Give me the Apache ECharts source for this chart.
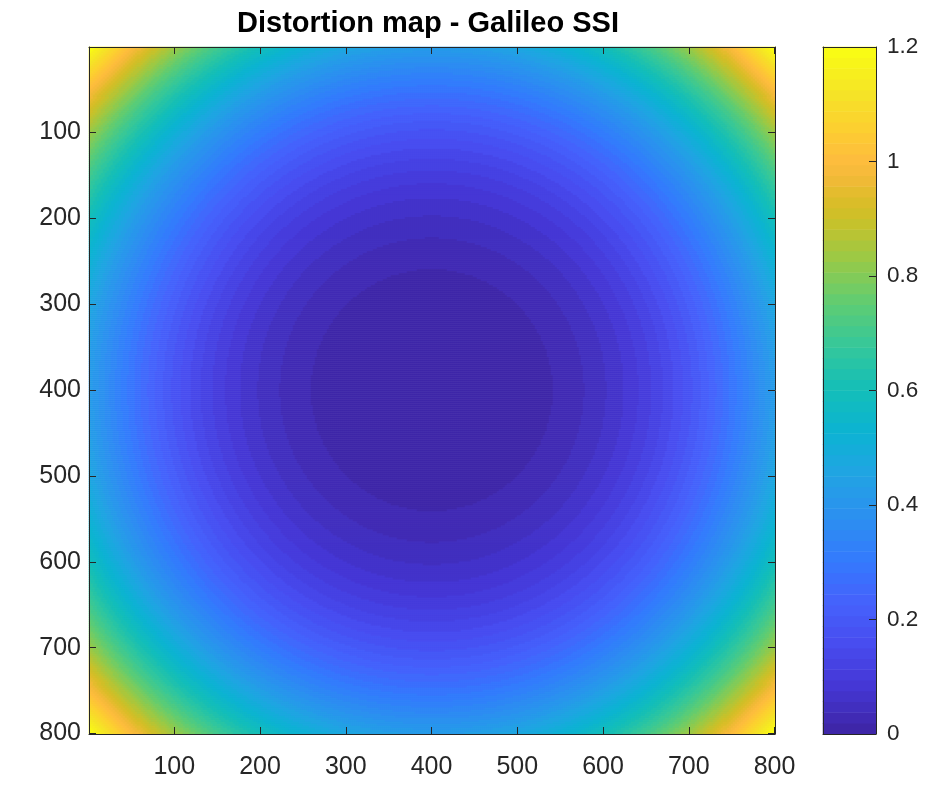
<!DOCTYPE html>
<html><head><meta charset="utf-8">
<script src="https://cdn.jsdelivr.net/npm/echarts@6/dist/echarts.min.js"></script>
<style>html,body{margin:0;padding:0;background:#fff}#c{width:943px;height:793px}</style>
</head><body><div id="c"></div>
<script>
// ---------------- data ----------------
const titleText = 'Distortion map - Galileo SSI';
const xTickValues = [100, 200, 300, 400, 500, 600, 700, 800];
const yTickValues = [100, 200, 300, 400, 500, 600, 700, 800];
const colorLimits = [0, 1.2];
const colorbarInterval = 0.2;
const imageSize = 800;                 // image is 800 x 800 pixels
const opticalCenter = [400.5, 400.5];  // centre of the concentric rings
const nLevels = 64;                    // colour bands in the colour bar
// radius (image pixels from the centre) where the map steps into the next colour band,
// read off the ring edges in the picture (band 0 is the dark central disc)
const bandEdgeRadius = [
  140.9, 177.5, 203.2, 223.7, 240.9, 256.0, 269.5, 281.8, 293.1, 303.6,
  313.4, 322.6, 331.3, 339.6, 347.5, 355.0, 362.3, 369.3, 376.0, 382.5,
  388.7, 394.8, 400.7, 406.4, 412.0, 417.4, 422.7, 427.9, 432.9, 437.8,
  442.6, 447.3, 451.9, 456.5, 460.9, 465.2, 469.5, 473.7, 477.8, 481.9,
  485.8, 489.8, 493.6, 497.4, 501.2, 504.8, 508.5, 512.1, 515.6, 519.1,
  522.5, 525.9, 529.3, 532.6, 535.8, 539.1, 542.3, 545.4, 548.5, 551.6,
  554.7, 557.7, 560.7
];

// ---------------- colormap (parula) ----------------
const parulaAnchors = [
  [0, 0.2422, 0.1504, 0.6603], [16, 0.2704, 0.2138, 0.8346], [32, 0.2813, 0.2985, 0.9397],
  [48, 0.2710, 0.3860, 0.9898], [64, 0.2006, 0.4803, 0.9906], [80, 0.1716, 0.5655, 0.9393],
  [96, 0.1288, 0.6408, 0.8910], [112, 0.0433, 0.7039, 0.8242], [128, 0.0770, 0.7468, 0.7224],
  [144, 0.2061, 0.7808, 0.6065], [160, 0.3671, 0.8021, 0.4563], [176, 0.5886, 0.7913, 0.2833],
  [192, 0.7945, 0.7554, 0.1570], [200, 0.8703, 0.7392, 0.1615], [208, 0.9523, 0.7284, 0.2237],
  [214, 0.9900, 0.7365, 0.2429], [224, 0.9938, 0.7974, 0.1974], [240, 0.9601, 0.8963, 0.1507],
  [255, 0.9769, 0.9839, 0.0805]
];
function parula(n) {
  const out = [];
  for (let k = 0; k < n; k++) {
    const idx = k * 255 / (n - 1);
    let j = 0;
    while (j < parulaAnchors.length - 2 && parulaAnchors[j + 1][0] < idx) j++;
    const a = parulaAnchors[j], b = parulaAnchors[j + 1];
    const t = (idx - a[0]) / (b[0] - a[0]);
    const c = [1, 2, 3].map(i => Math.round(255 * (a[i] + (b[i] - a[i]) * t)));
    out.push('rgb(' + c.join(',') + ')');
  }
  return out;
}
const colors = parula(nLevels);
const step = (colorLimits[1] - colorLimits[0]) / nLevels;

// ---------------- build heatmap cells ----------------
const nCells = 343;
const cellSize = imageSize / nCells;
const cellIdx = [];
for (let i = 0; i < nCells; i++) cellIdx.push(i);
function bandOf(r) {
  let lo = 0, hi = bandEdgeRadius.length;
  while (lo < hi) { const m = (lo + hi) >> 1; if (bandEdgeRadius[m] <= r) lo = m + 1; else hi = m; }
  return lo;
}
const cells = [];
for (let j = 0; j < nCells; j++) {
  const py = 0.5 + (j + 0.5) * cellSize;
  for (let i = 0; i < nCells; i++) {
    const px = 0.5 + (i + 0.5) * cellSize;
    const r = Math.hypot(px - opticalCenter[0], py - opticalCenter[1]);
    const b = bandOf(r);
    cells.push([i, j, colorLimits[0] + (b + 0.5) * step]);
  }
}
const cbLevels = [], cbData = [];
for (let b = 0; b < nLevels; b++) { cbLevels.push(b); cbData.push([0, b, colorLimits[0] + (b + 0.5) * step]); }
const pieces = colors.map((c, b) => ({ gte: colorLimits[0] + b * step, lt: colorLimits[0] + (b + 1) * step, color: c }));
pieces[pieces.length - 1].lte = colorLimits[1]; delete pieces[pieces.length - 1].lt;

// ---------------- chart ----------------
const FONT = '"Liberation Sans", Arial, Helvetica, sans-serif';
const INK = '#262626';
const lineStyle = { color: INK, width: 1 };
const hiddenVal = (grid, pos, extra) => Object.assign({
  type: 'value', gridIndex: grid, position: pos, z: 10,
  axisLine: { show: true, onZero: false, lineStyle }, axisTick: { show: false },
  axisLabel: { show: false }, splitLine: { show: false }
}, extra || {});

const chart = echarts.init(document.getElementById('c'), null, { renderer: 'canvas' });
chart.setOption({
  animation: false,
  backgroundColor: '#fff',
  title: {
    text: titleText, left: 423, top: 4, textAlign: 'center',
    textStyle: { fontFamily: FONT, fontSize: 29, fontWeight: 'bold', color: '#000' }
  },
  grid: [
    { left: 89, top: 47, width: 686, height: 687, containLabel: false },
    { left: 823, top: 47, width: 53, height: 687, containLabel: false }
  ],
  visualMap: { type: 'piecewise', show: false, seriesIndex: [0, 1], pieces },
  xAxis: [
    { type: 'category', gridIndex: 0, data: cellIdx, show: false },
    {
      type: 'value', gridIndex: 0, position: 'bottom', min: 0.5, max: 800.5, z: 10,
      axisLine: { show: true, onZero: false, lineStyle },
      axisTick: { show: true, inside: true, length: 7, lineStyle, customValues: xTickValues },
      axisLabel: { show: true, customValues: xTickValues, fontFamily: FONT, fontSize: 25, color: INK, margin: 21 },
      splitLine: { show: false }
    },
    {
      type: 'value', gridIndex: 0, position: 'top', min: 0.5, max: 800.5, z: 10,
      axisLine: { show: true, onZero: false, lineStyle },
      axisTick: { show: true, inside: true, length: 7, lineStyle, customValues: xTickValues },
      axisLabel: { show: false }, splitLine: { show: false }
    },
    { type: 'category', gridIndex: 1, data: ['cb'], show: false },
    hiddenVal(1, 'bottom', { min: 0, max: 1 }),
    hiddenVal(1, 'top', { min: 0, max: 1 })
  ],
  yAxis: [
    { type: 'category', gridIndex: 0, data: cellIdx, inverse: true, show: false },
    {
      type: 'value', gridIndex: 0, position: 'left', min: 0.5, max: 800.5, inverse: true, z: 10,
      axisLine: { show: true, onZero: false, lineStyle },
      axisTick: { show: true, inside: true, length: 7, lineStyle, customValues: yTickValues },
      axisLabel: { show: true, customValues: yTickValues, fontFamily: FONT, fontSize: 25, color: INK, margin: 8, padding: [4, 0, 0, 0] },
      splitLine: { show: false }
    },
    {
      type: 'value', gridIndex: 0, position: 'right', min: 0.5, max: 800.5, inverse: true, z: 10,
      axisLine: { show: true, onZero: false, lineStyle },
      axisTick: { show: true, inside: true, length: 7, lineStyle, customValues: yTickValues },
      axisLabel: { show: false }, splitLine: { show: false }
    },
    { type: 'category', gridIndex: 1, data: cbLevels, show: false },
    {
      type: 'value', gridIndex: 1, position: 'right', min: colorLimits[0], max: colorLimits[1],
      interval: colorbarInterval, z: 10,
      axisLine: { show: true, onZero: false, lineStyle },
      axisTick: { show: true, inside: true, length: 7, lineStyle },
      axisLabel: { show: true, fontFamily: FONT, fontSize: 22.5, color: INK, margin: 11, padding: [6, 0, 0, 0] },
      splitLine: { show: false }
    },
    hiddenVal(1, 'left', { min: colorLimits[0], max: colorLimits[1] })
  ],
  series: [
    {
      type: 'heatmap', xAxisIndex: 0, yAxisIndex: 0, data: cells,
      progressive: 0, silent: true, emphasis: { disabled: true }
    },
    {
      type: 'heatmap', xAxisIndex: 3, yAxisIndex: 3, data: cbData,
      progressive: 0, silent: true, emphasis: { disabled: true }
    }
  ]
});
</script></body></html>
